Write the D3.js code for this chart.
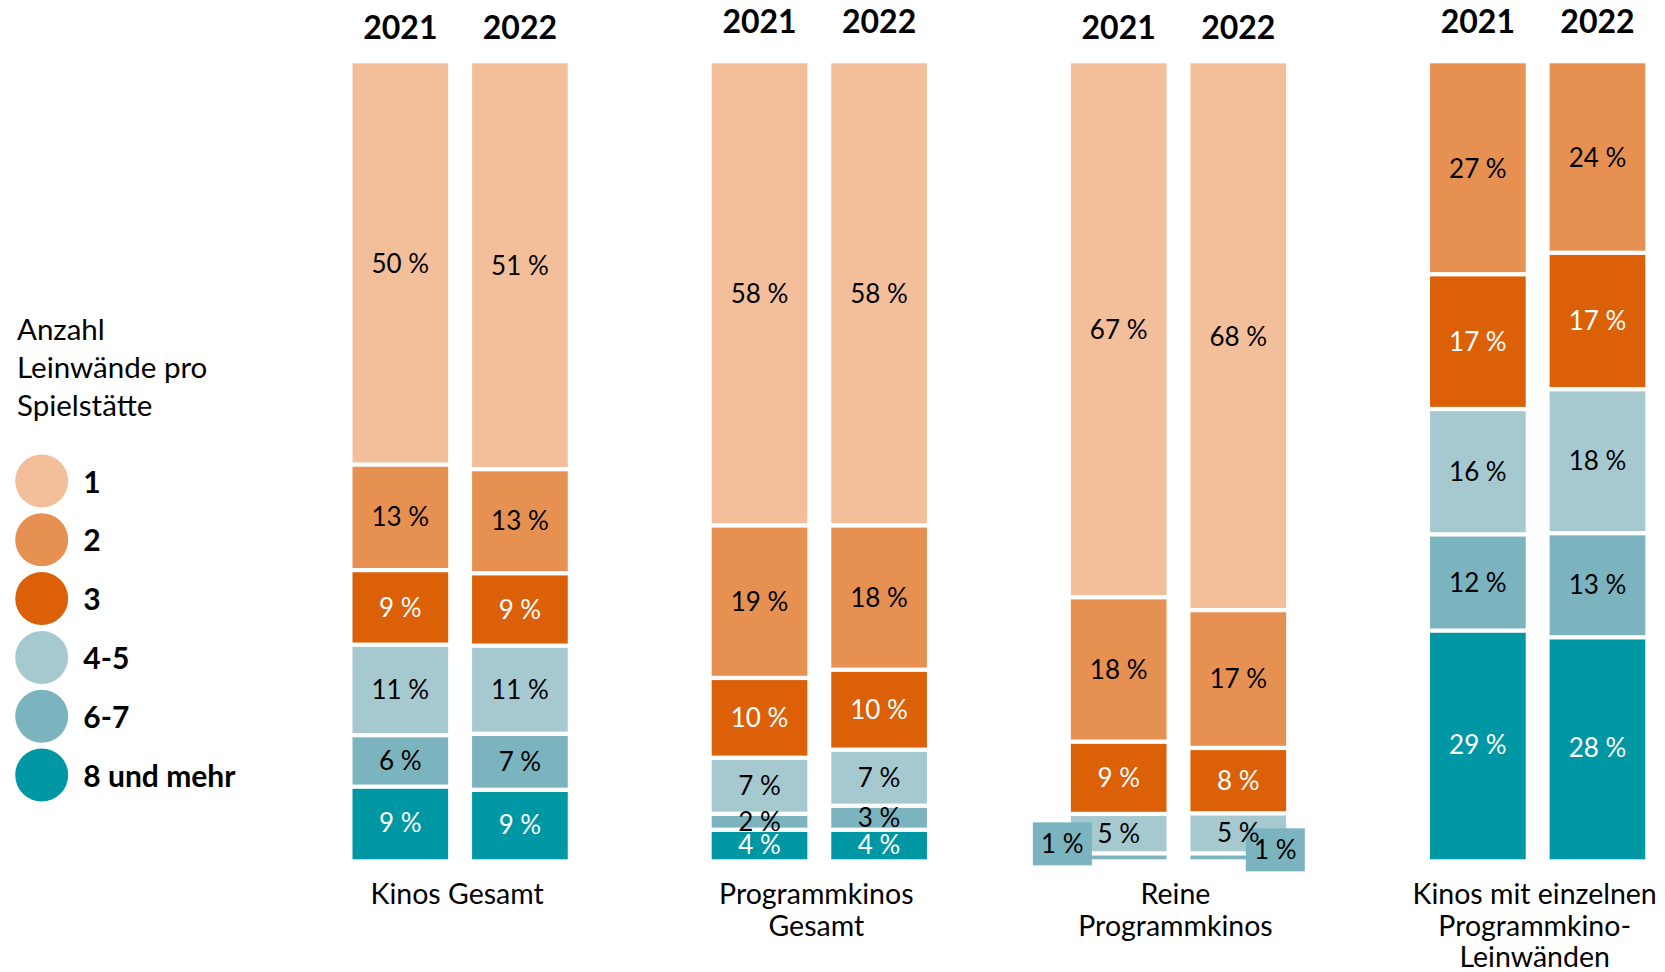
<!DOCTYPE html>
<html>
<head>
<meta charset="utf-8">
<title>Anzahl Leinwände pro Spielstätte</title>
<style>
	body { margin: 0; background: #fff; }
	svg { display: block; font-family: Lato, "Open Sans", sans-serif; }
</style>
<script src="https://cdn.jsdelivr.net/npm/d3@7"></script>
</head>
<body>
<svg width="1665" height="972"></svg>
<script>

// Gruppen, Jahre, Kategorien
var gruppen = [
	["Kinos Gesamt"],
	["Programmkinos", "Gesamt"],
	["Reine", "Programmkinos"],
	["Kinos mit einzelnen", "Programmkino-", "Leinwänden"]
];
var jahre = ["2021", "2022"];
var kategorien = ["1", "2", "3", "4-5", "6-7", "8 und mehr"];
var farben = ["#f3bf9b", "#e69152", "#dc6007", "#a6c9d0", "#7bb3be", "#0097a4"];
var weisseSchrift = ["3", "8 und mehr"];

// Anteile in %, je Balken: G1 2021, G1 2022, G2 2021, G2 2022, ...
var anteil1     = [50.4, 51.0, 58.07, 58.07, 67.07, 68.45, 0, 0];
var anteil2     = [13.25, 13.08, 19.16, 18.13, 18.15, 17.25, 26.55, 23.81];
var anteil3     = [9.37, 9.10, 10.03, 10.05, 9.07, 8.19, 16.96, 17.14];
var anteil45    = [11.36, 11.07, 7.04, 7.04, 4.96, 5.01, 15.78, 18.09];
var anteil67    = [6.47, 7.04, 2.01, 3.02, 0.74, 0.74, 12.11, 13.08];
var anteil8plus = [9.12, 8.73, 3.71, 3.71, 0, 0, 28.78, 27.89];

var reihen = [anteil1, anteil2, anteil3, anteil45, anteil67, anteil8plus];

var data = [];
for (var i = 0; i < anteil1.length; i++) {
	var row = {gruppe: Math.floor(i / 2), jahr: jahre[i % 2]};
	kategorien.forEach(function(k, j) { row[k] = reihen[j][i]; });
	data.push(row);
}

var svg = d3.select("svg");
var gap = 4.3;

var x0 = d3.scaleBand()
	.domain(d3.range(gruppen.length))
	.range([352.5, 1645.3])
	.paddingInner(0.4007)
	.paddingOuter(0);

var x1 = d3.scaleBand()
	.domain(jahre)
	.range([0, x0.bandwidth()])
	.paddingInner(0.2);

var y = d3.scaleLinear()
	.domain([0, 1])
	.range([859.3, 63.3]);

var z = d3.scaleOrdinal().domain(kategorien).range(farben);

// von unten nach oben stapeln: 8 und mehr unten
var stack = d3.stack()
	.keys(kategorien.slice().reverse())
	.offset(d3.stackOffsetExpand);

var serien = stack(data);

var gBars = svg.append("g");
var gLabels = svg.append("g");

serien.forEach(function(s) {
	var key = s.key;
	s.forEach(function(d) {
		var row = d.data;
		var wert = row[key];
		if (!wert) return;
		var bx = x0(row.gruppe) + x1(row.jahr);
		var bw = x1.bandwidth();
		var top = y(d[1]) + (d[1] > 0.9999 ? 0 : gap / 2);
		var bottom = y(d[0]) - (d[0] < 0.0001 ? 0 : gap / 2);

		gBars.append("rect")
			.attr("x", bx)
			.attr("y", top)
			.attr("width", bw)
			.attr("height", Math.max(0, bottom - top))
			.attr("fill", z(key));

		var label = Math.round(wert) + " %";
		var cy = (y(d[0]) + y(d[1])) / 2;

		if (wert < 1.5) {
			// kleine Anteile: Beschriftung in einem Kasten neben dem Balken
			var first = row.jahr == jahre[0];
			var kx = first ? bx - 38 : bx + bw - 40.3;
			var ky = first ? cy - 34 : cy - 28;
			gLabels.append("rect")
				.attr("x", kx)
				.attr("y", ky)
				.attr("width", 59)
				.attr("height", 43)
				.attr("fill", z(key));
			gLabels.append("text")
				.attr("x", kx + 29.5)
				.attr("y", ky + 21.5)
				.attr("dy", "0.35em")
				.attr("text-anchor", "middle")
				.attr("font-size", 26)
				.attr("fill", "#000")
				.text(label);
		} else {
			gLabels.append("text")
				.attr("x", bx + bw / 2)
				.attr("y", cy)
				.attr("dy", "0.35em")
				.attr("text-anchor", "middle")
				.attr("font-size", 26)
				.attr("fill", weisseSchrift.indexOf(key) >= 0 ? "#fff" : "#000")
				.text(label);
		}
	});
});

// Jahreszahlen über den Balken
data.forEach(function(row) {
	svg.append("text")
		.attr("x", x0(row.gruppe) + x1(row.jahr) + x1.bandwidth() / 2)
		.attr("y", row.gruppe % 2 ? 33 : 39)
		.attr("text-anchor", "middle")
		.attr("font-size", 32)
		.attr("font-weight", "bold")
		.attr("fill", "#000")
		.text(row.jahr);
});

// Gruppenbeschriftungen unten
gruppen.forEach(function(zeilen, i) {
	var t = svg.append("text")
		.attr("text-anchor", "middle")
		.attr("font-size", 28.5)
		.attr("fill", "#000");
	zeilen.forEach(function(z, j) {
		t.append("tspan")
			.attr("x", x0(i) + x0.bandwidth() / 2 - 3)
			.attr("y", 904 + j * 31.5)
			.text(z);
	});
});

// Legende
var titel = ["Anzahl", "Leinwände pro", "Spielstätte"];
svg.append("g").selectAll("text")
	.data(titel)
	.enter().append("text")
	.attr("x", 17)
	.attr("y", function(d, i) { return 340 + i * 38; })
	.attr("font-size", 29.5)
	.attr("fill", "#000")
	.text(function(d) { return d; });

var legend = svg.append("g")
	.selectAll("g")
	.data(kategorien)
	.enter().append("g")
	.attr("transform", function(d, i) { return "translate(41.7," + (481 + i * 58.8) + ")"; });

legend.append("circle")
	.attr("r", 26.5)
	.attr("fill", function(d) { return z(d); });

legend.append("text")
	.attr("x", 41.6)
	.attr("y", 1)
	.attr("dy", "0.35em")
	.attr("font-size", 30)
	.attr("font-weight", "bold")
	.attr("fill", "#000")
	.text(function(d) { return d; });

</script>
</body>
</html>
